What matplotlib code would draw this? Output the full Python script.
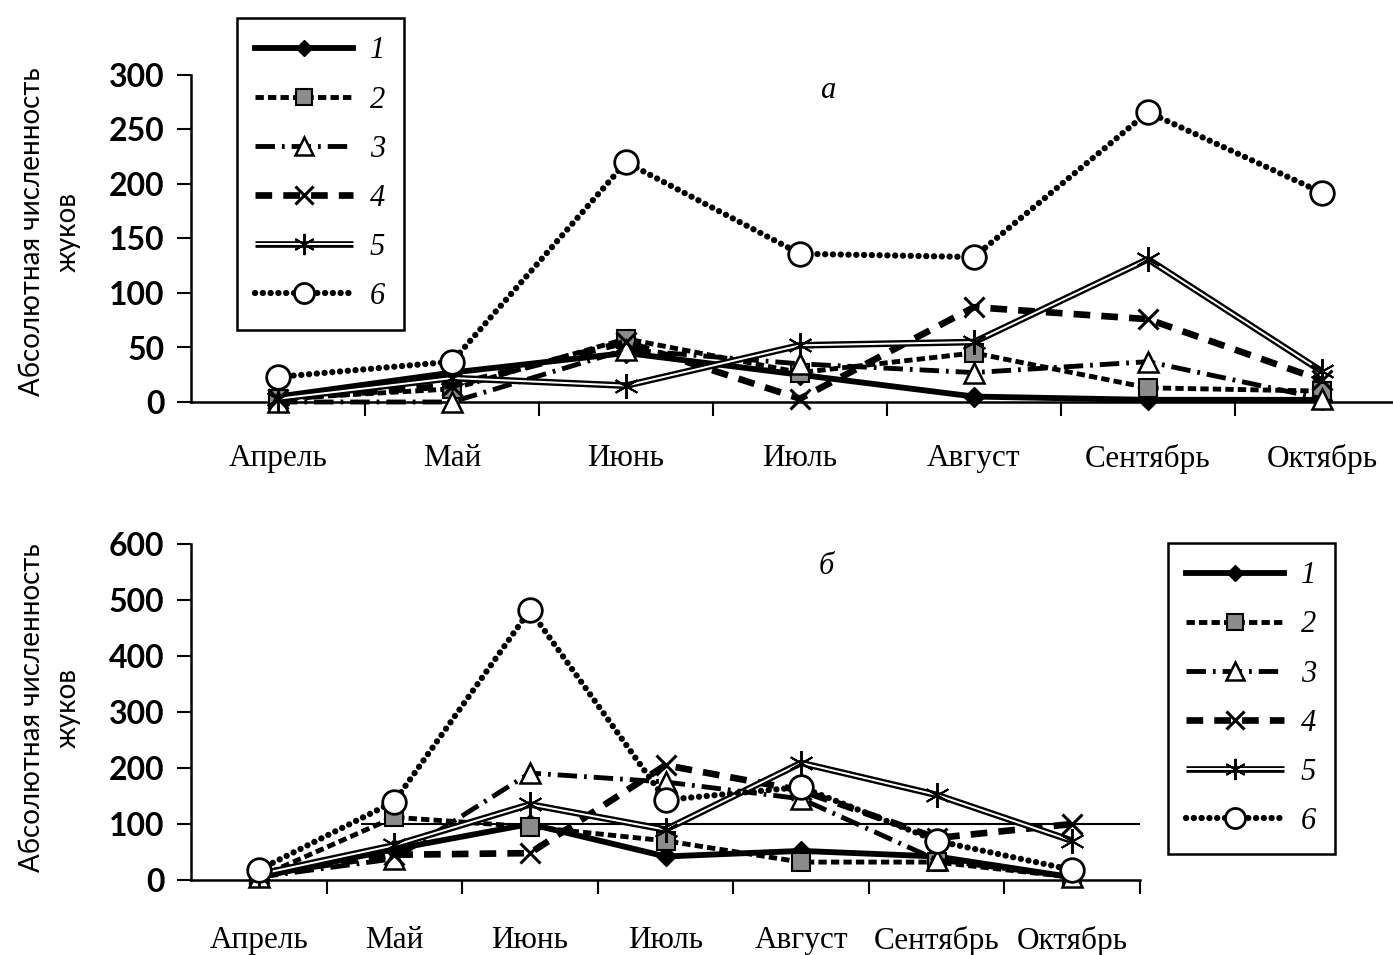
import matplotlib
matplotlib.use("Agg")
import matplotlib.pyplot as plt
import numpy as np

plt.rcParams['lines.scale_dashes'] = False

months = ['Апрель', 'Май', 'Июнь', 'Июль', 'Август', 'Сентябрь', 'Октябрь']
series_labels = ['1', '2', '3', '4', '5', '6']

# panel а
a1 = [5, 27, 45, 25, 5, 2, 2]
a2 = [3, 12, 58, 27, 45, 13, 10]
a3 = [0, 0, 48, 35, 27, 37, 3]
a4 = [3, 15, 55, 3, 87, 76, 20]
a5 = [3, 22, 15, 52, 55, 131, 28]
a6 = [23, 37, 220, 136, 133, 266, 192]

# panel б
b1 = [5, 55, 100, 42, 52, 42, 5]
b2 = [5, 112, 95, 70, 32, 32, 5]
b3 = [5, 38, 191, 175, 145, 36, 5]
b4 = [10, 45, 48, 205, 160, 75, 100]
b5 = [10, 62, 135, 90, 209, 152, 70]
b6 = [18, 140, 482, 143, 166, 70, 18]

yticks_a = [0, 50, 100, 150, 200, 250, 300]
yticks_b = [0, 100, 200, 300, 400, 500, 600]

W, H = 1393, 955
fig = plt.figure(figsize=(W / 100, H / 100), dpi=100)

SERIF = 'Liberation Serif'
SANS = 'Lato'


def style(i):
    base = dict(color='black', markeredgecolor='black')
    if i == 0:
        base.update(lw=4.2, ls='-', marker='D', ms=10, markerfacecolor='black')
    elif i == 1:
        base.update(lw=3.5, ls=(0, (6, 3)), marker='s', ms=13, markerfacecolor='#8c8c8c', mew=1.5)
    elif i == 2:
        base.update(lw=3.5, ls=(0, (14, 5, 2, 5)), marker='^', ms=15, markerfacecolor='white', mew=1.8)
    elif i == 3:
        base.update(lw=4.8, ls=(0, (12, 8)), marker='x', ms=15, mew=2.2)
    else:
        base.update(lw=4.5, ls=(0, (0.1, 5.5)), dash_capstyle='round', marker='o', ms=17,
                    markerfacecolor='white', mew=2)
    return base


def panel(rect, data, yticks, ylim, title, title_xy, leg_anchor, xpad):
    ax = fig.add_axes(rect)
    x = np.arange(len(months))
    handles = []
    for i, ys in enumerate(data):
        z = 3 + i
        if i == 4:
            outer, = ax.plot(x, ys, color='black', lw=4.8, solid_capstyle='butt', zorder=z, clip_on=False)
            inner, = ax.plot(x, ys, color='white', lw=1.4, marker=(6, 2, 0), ms=18, mew=1.4,
                             markeredgecolor='black', zorder=z + 0.1, clip_on=False)
            handles.append((outer, inner))
        else:
            h, = ax.plot(x, ys, zorder=z, clip_on=False, **style(i))
            handles.append(h)
    ax.set_xlim(-0.5, len(months) - 0.5)
    ax.set_ylim(*ylim)
    ax.set_xticks(x)
    ax.set_xticklabels(months, fontfamily=SERIF, fontsize=22.5)
    ax.set_xticks(np.arange(0.5, len(months) - 0.4, 1.0), minor=True)
    ax.tick_params(axis='x', which='major', length=0, pad=xpad)
    ax.tick_params(axis='x', which='minor', length=10, width=1.5, direction='out')
    ax.set_yticks(yticks)
    ax.set_yticklabels([str(v) for v in yticks], fontfamily=SANS, fontweight='bold', fontsize=23)
    ax.tick_params(axis='y', length=10, width=1.5, direction='out', pad=9)
    for s in ['top', 'right']:
        ax.spines[s].set_visible(False)
    for s in ['left', 'bottom']:
        ax.spines[s].set_linewidth(1.8)
    fig.text(title_xy[0], title_xy[1], title, fontfamily=SERIF, style='italic', fontsize=22,
             ha='center', va='center')
    leg = fig.legend(handles=handles, labels=series_labels, loc='upper left', bbox_to_anchor=leg_anchor,
                     bbox_transform=fig.transFigure, prop=dict(family=SERIF, style='italic', size=22),
                     handlelength=3.2, handletextpad=0.55, labelspacing=0.66, borderpad=0.6,
                     borderaxespad=0, fancybox=False, edgecolor='black', framealpha=1,
                     markerscale=0.85)
    leg.get_frame().set_linewidth(1.8)
    return ax


ax_a = panel([191 / W, 1 - 402 / H, (1409 - 191) / W, (402 - 75) / H],
             [a1, a2, a3, a4, a5, a6], yticks_a, (0, 300), 'а', (828 / W, 1 - 90 / H),
             (237 / W, 1 - 18 / H), 30)
ax_b = panel([191 / W, 1 - 880 / H, (1140 - 191) / W, (880 - 544) / H],
             [b1, b2, b3, b4, b5, b6], yticks_b, (0, 600), 'б', (826 / W, 1 - 567 / H),
             (1168 / W, 1 - 543 / H), 33)
ax_b.axhline(100, xmin=0.18, xmax=1.0, color='black', lw=1.5, zorder=2)

for yc in (232, 708):
    fig.text(50 / W, 1 - yc / H, 'Абсолютная численность\nжуков', rotation=90,
             fontfamily=SANS, fontsize=20, ha='center', va='center', multialignment='center',
             linespacing=1.45)

fig.savefig('out.png', dpi=100)
